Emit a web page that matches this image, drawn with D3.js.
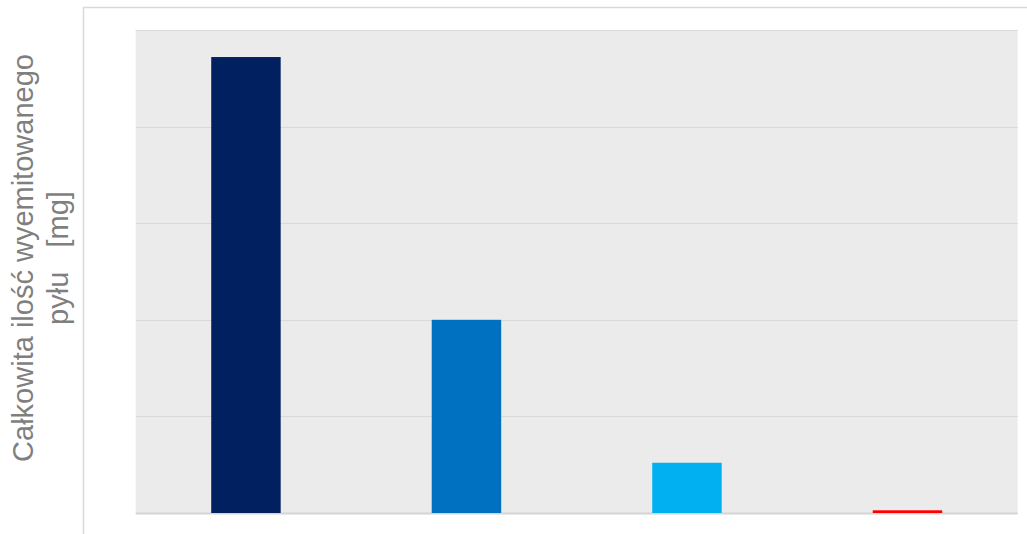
<!doctype html>
<html lang="pl">
<head>
  <meta charset="utf-8">
  <title>Całkowita ilość wyemitowanego pyłu</title>
  <script src="https://d3js.org/d3.v7.min.js"></script>
  <style>
    body { margin: 0; background: #fff; }
    svg { display: block; }
  </style>
</head>
<body>
  <div id="chart"></div>
  <script>
    var width = 1027, height = 534;

    // data (gridline = 1 unit, no tick labels shown)
    var categories = ['A', 'B', 'C', 'D'];
    var values = [4.72, 2.0, 0.52, 0.028];
    var colors = ['#002060', '#0070C0', '#00B0F0', '#FF0000'];
    var yTicks = [0, 1, 2, 3, 4, 5];
    var titleLines = ['Całkowita ilość wyemitowanego', 'pyłu   [mg]'];

    var plot = { left: 135.7, right: 1017.7, top: 30, bottom: 513 };

    var svg = d3.select('#chart')
      .append('svg')
      .attr('width', width)
      .attr('height', height);

    // chart frame (only top and left edges are visible)
    svg.append('path')
      .attr('d', 'M83.5,' + height + 'V7.5H' + width)
      .attr('fill', 'none')
      .attr('stroke', '#d9d9d9')
      .attr('stroke-width', 1.5);

    var x = d3.scaleBand()
      .domain(categories)
      .range([plot.left, plot.right])
      .paddingInner(0.685)
      .paddingOuter(0.3425);

    var y = d3.scaleLinear()
      .domain([0, 5])
      .range([plot.bottom, plot.top]);

    // plot background
    svg.append('rect')
      .attr('x', plot.left)
      .attr('y', plot.top)
      .attr('width', plot.right - plot.left)
      .attr('height', plot.bottom - plot.top)
      .attr('fill', '#ebebeb');

    // gridlines
    svg.append('g')
      .selectAll('line')
      .data(yTicks)
      .enter()
      .append('line')
      .attr('x1', plot.left)
      .attr('x2', plot.right)
      .attr('y1', function(d) { return Math.round(y(d)) + 0.5; })
      .attr('y2', function(d) { return Math.round(y(d)) + 0.5; })
      .attr('stroke', function(d) { return d === 0 ? '#d4d4d4' : '#d9d9d9'; })
      .attr('stroke-width', function(d) { return d === 0 ? 2 : 1; });

    // bars
    svg.append('g')
      .selectAll('rect')
      .data(values)
      .enter()
      .append('rect')
      .attr('x', function(d, i) { return x(categories[i]); })
      .attr('width', x.bandwidth())
      .attr('y', function(d) { return y(d); })
      .attr('height', function(d) { return y(0) - y(d); })
      .attr('fill', function(d, i) { return colors[i]; });

    // y axis title, two lines rotated
    var title = svg.append('text')
      .attr('transform', 'translate(33,258) rotate(-90)')
      .attr('text-anchor', 'middle')
      .attr('font-family', 'Liberation Sans, Arial, sans-serif')
      .attr('font-size', 29)
      .attr('fill', '#7f7f7f');

    title.selectAll('tspan')
      .data(titleLines)
      .enter()
      .append('tspan')
      .attr('x', 0)
      .attr('dy', function(d, i) { return i === 0 ? 0 : 35; })
      .style('white-space', 'pre')
      .text(function(d) { return d; });
  </script>
</body>
</html>
